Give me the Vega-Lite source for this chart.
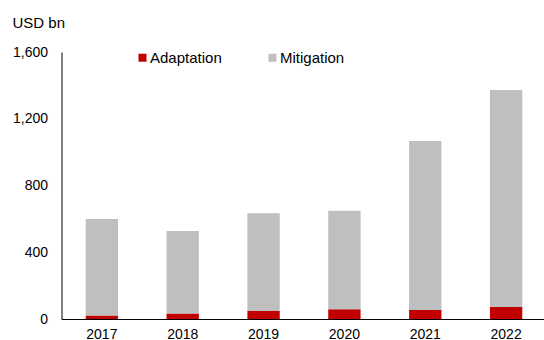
{
  "$schema": "https://vega.github.io/schema/vega-lite/v6.json",
  "width": 482.5,
  "height": 267,
  "autosize": {"type": "none"},
  "padding": {"left": 61.5, "top": 52, "right": 0, "bottom": 21},
  "background": "white",
  "config": {
    "view": {"stroke": null},
    "font": "Liberation Sans",
    "axis": {"labelFont": "Liberation Sans", "titleFont": "Liberation Sans", "labelColor": "#000", "titleColor": "#000", "domainColor": "#000"}
  },
  "data": {
    "values": [
      {"year": "2017", "type": "Adaptation", "value": 21},
      {"year": "2017", "type": "Mitigation", "value": 578},
      {"year": "2018", "type": "Adaptation", "value": 33},
      {"year": "2018", "type": "Mitigation", "value": 495},
      {"year": "2019", "type": "Adaptation", "value": 48},
      {"year": "2019", "type": "Mitigation", "value": 586},
      {"year": "2020", "type": "Adaptation", "value": 58},
      {"year": "2020", "type": "Mitigation", "value": 591},
      {"year": "2021", "type": "Adaptation", "value": 54},
      {"year": "2021", "type": "Mitigation", "value": 1013},
      {"year": "2022", "type": "Adaptation", "value": 72},
      {"year": "2022", "type": "Mitigation", "value": 1301}
    ]
  },
  "mark": {"type": "bar"},
  "encoding": {
    "x": {
      "field": "year",
      "type": "ordinal",
      "scale": {"paddingInner": 0.6, "paddingOuter": 0.284, "align": 0.527},
      "axis": {
        "title": null,
        "labelAngle": 0,
        "ticks": false,
        "tickSize": 0,
        "labelPadding": 8,
        "labelFontSize": 14,
        "domainWidth": 1
      }
    },
    "y": {
      "field": "value",
      "type": "quantitative",
      "stack": "zero",
      "scale": {"domain": [0, 1600], "nice": false},
      "axis": {
        "values": [0, 400, 800, 1200, 1600],
        "format": ",.0f",
        "grid": false,
        "ticks": false,
        "tickSize": 0,
        "labelPadding": 14,
        "labelFontSize": 14,
        "domain": true,
        "domainWidth": 1,
        "title": "USD bn",
        "titleAngle": 0,
        "titleAlign": "left",
        "titleBaseline": "middle",
        "titleX": -49.5,
        "titleY": -30,
        "titleFontSize": 15,
        "titleFontWeight": "normal"
      }
    },
    "color": {
      "field": "type",
      "type": "nominal",
      "scale": {"domain": ["Adaptation", "Mitigation"], "range": ["#C00000", "#BFBFBF"]},
      "legend": {
        "title": null,
        "orient": "none",
        "direction": "horizontal",
        "legendX": 73.5,
        "legendY": -2,
        "symbolType": "square",
        "symbolSize": 64,
        "symbolStrokeWidth": 0,
        "labelFontSize": 15,
        "labelColor": "#000",
        "labelOffset": 0,
        "columnPadding": 43
      }
    },
    "order": {"field": "type", "sort": "ascending"}
  }
}
